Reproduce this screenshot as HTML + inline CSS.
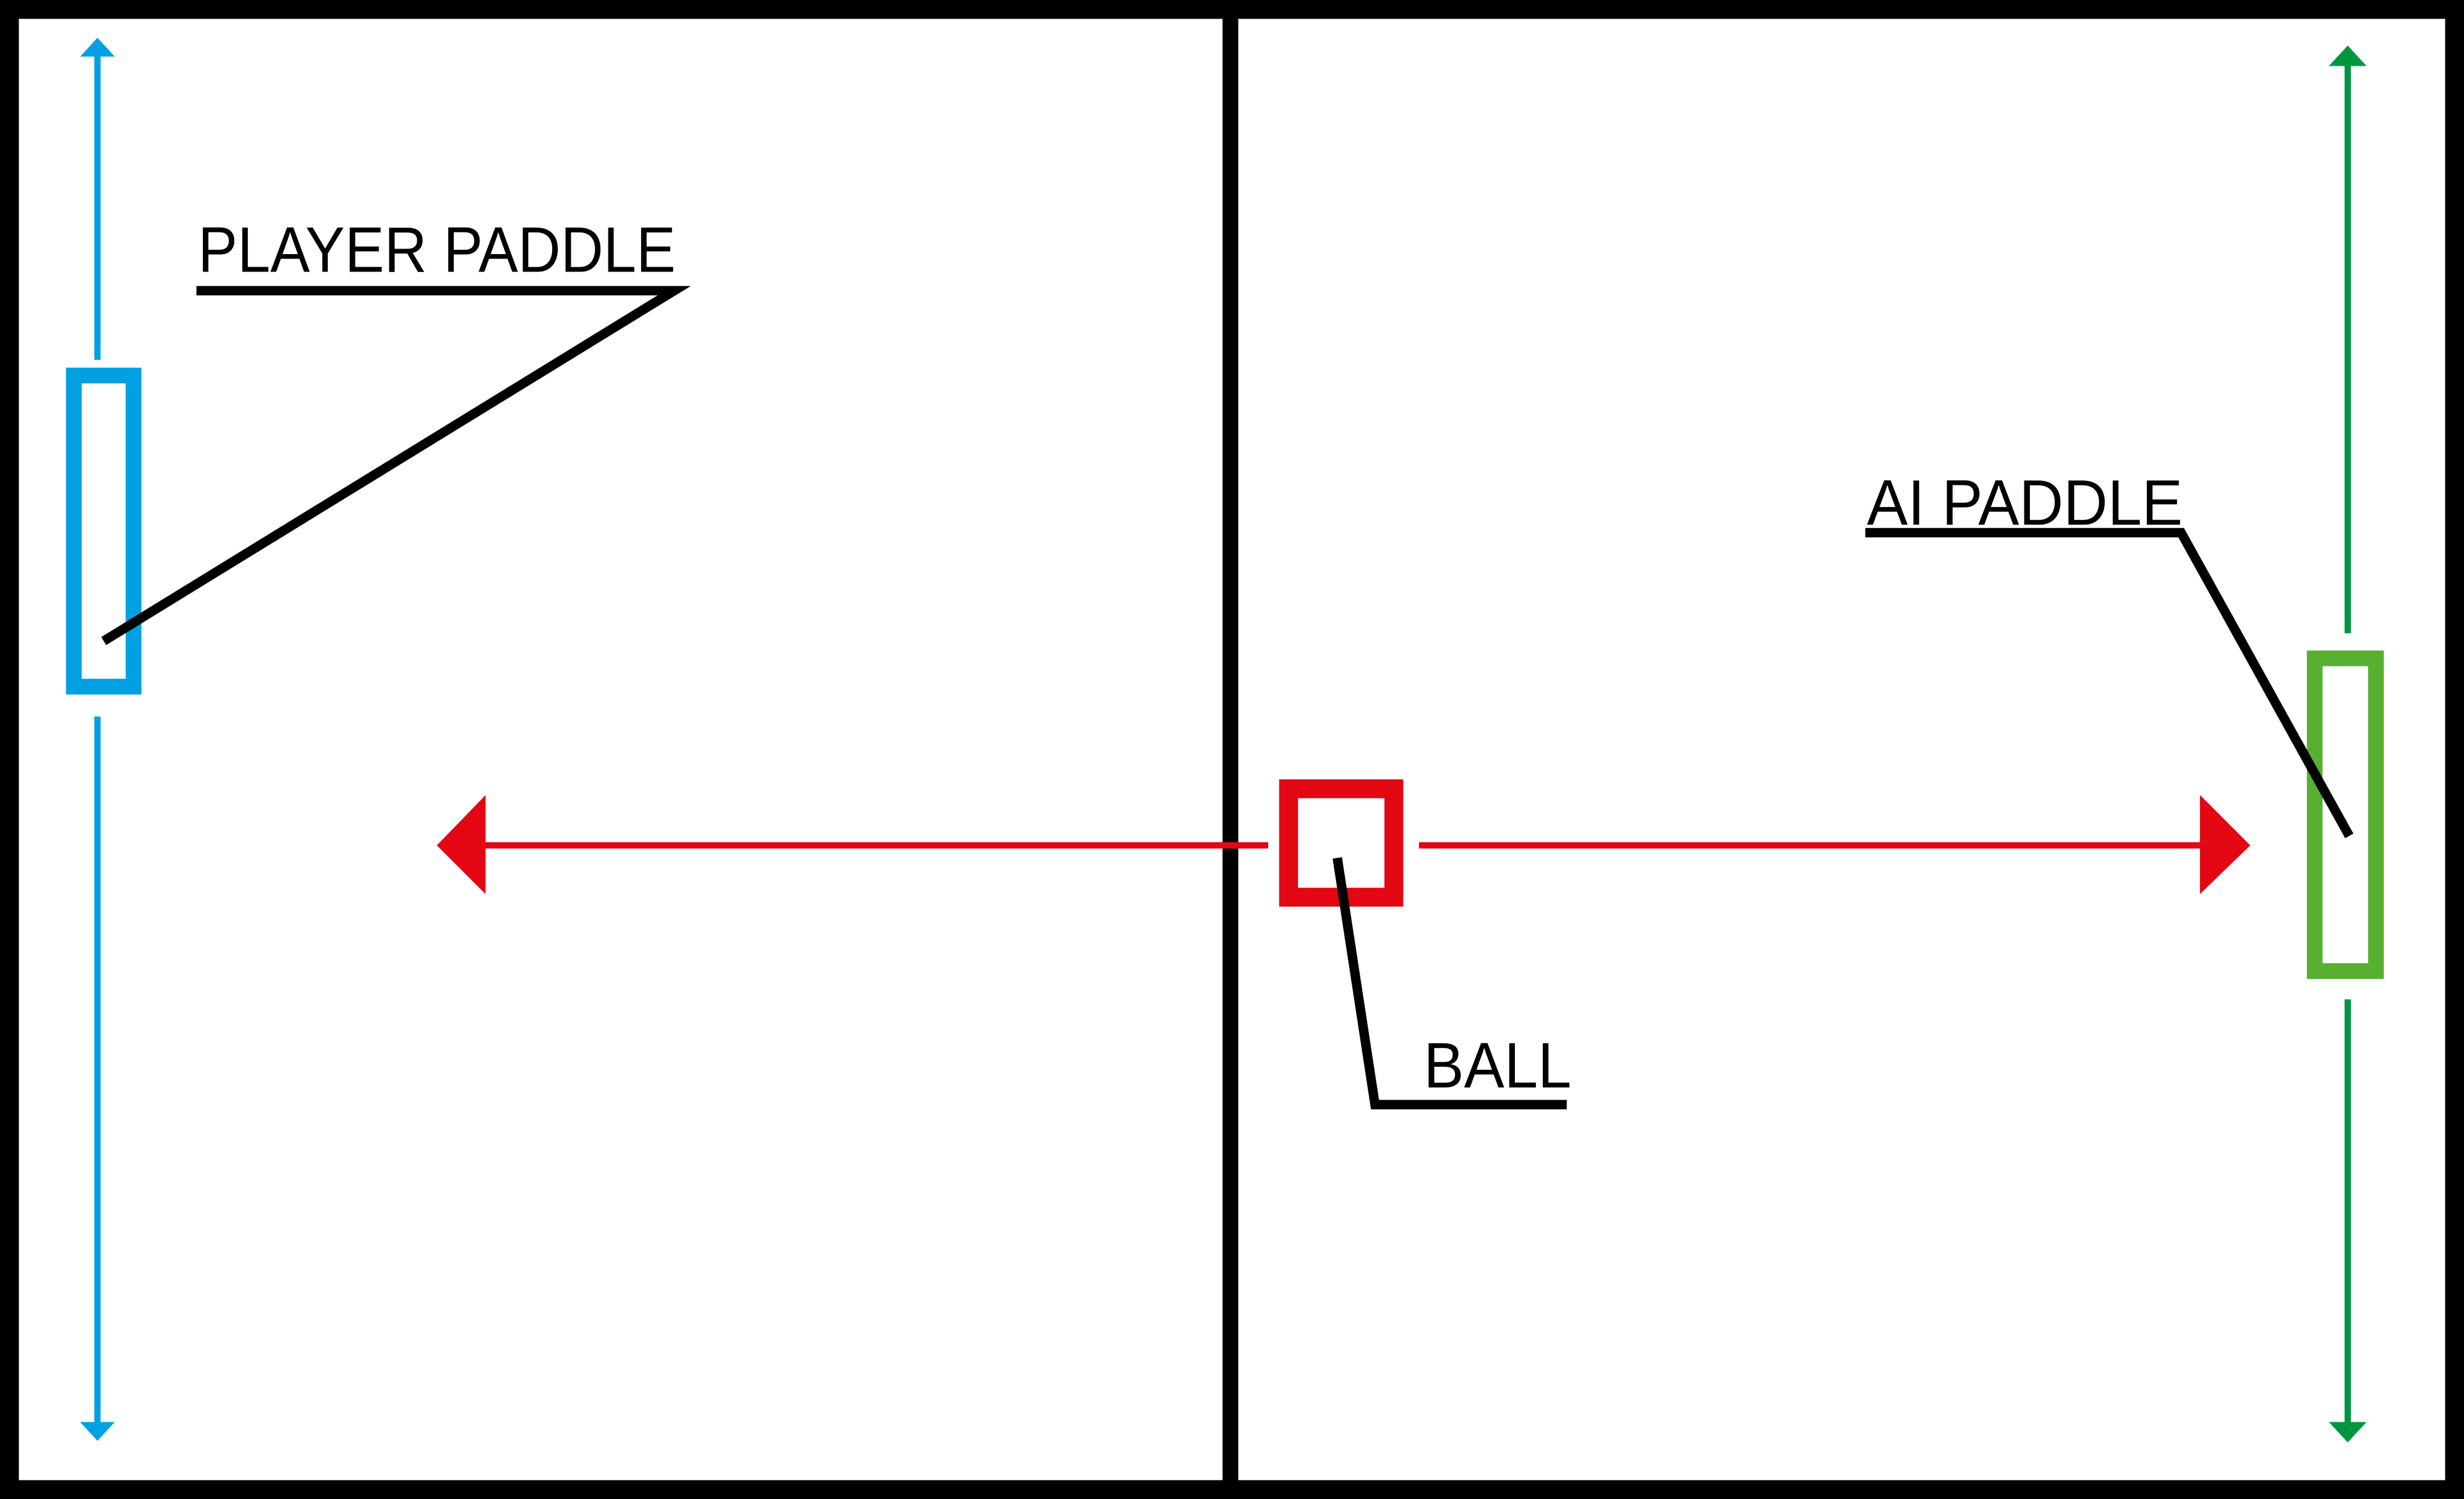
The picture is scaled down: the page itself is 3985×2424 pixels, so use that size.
<!DOCTYPE html>
<html>
<head>
<meta charset="utf-8">
<style>
html,body{margin:0;padding:0;background:#fff;}
svg{display:block;}
text{font-family:"Liberation Sans",sans-serif;font-size:41px;fill:#000;}
</style>
</head>
<body>
<svg width="3985" height="2424" viewBox="0 0 1568 954" preserveAspectRatio="none" xmlns="http://www.w3.org/2000/svg">
  <rect x="6" y="6" width="1556" height="942" fill="#fff" stroke="#000" stroke-width="12"/>
  <line x1="783" y1="6" x2="783" y2="948" stroke="#000" stroke-width="10"/>

  <g stroke="#00a0e3" stroke-width="4" fill="#00a0e3">
    <line x1="62" y1="32" x2="62" y2="229"/>
    <line x1="62" y1="456" x2="62" y2="908"/>
    <polygon points="51,36 62,24 73,36" stroke="none"/>
    <polygon points="51,905 62,917 73,905" stroke="none"/>
  </g>
  <rect x="47" y="239" width="38" height="198" fill="none" stroke="#00a0e3" stroke-width="10"/>

  <g stroke="#009640" stroke-width="4" fill="#009640">
    <line x1="1494" y1="38" x2="1494" y2="403"/>
    <line x1="1494" y1="636" x2="1494" y2="908"/>
    <polygon points="1482,42 1494,29 1506,42" stroke="none"/>
    <polygon points="1482,905 1494,918 1506,905" stroke="none"/>
  </g>
  <rect x="1473" y="419" width="39" height="199" fill="none" stroke="#57b030" stroke-width="10"/>

  <g stroke="#e30613" stroke-width="4" fill="#e30613">
    <line x1="305" y1="538" x2="807" y2="538"/>
    <line x1="903" y1="538" x2="1403" y2="538"/>
    <polygon points="278,538 309,506 309,569" stroke="none"/>
    <polygon points="1432,538 1400,506 1400,569" stroke="none"/>
  </g>
  <rect x="820" y="502" width="67" height="69" fill="none" stroke="#e30613" stroke-width="12"/>

  <g>
    <text x="126" y="173" textLength="304" lengthAdjust="spacingAndGlyphs">PLAYER PADDLE</text>
    <polyline points="125,185 429,185 66,408" fill="none" stroke="#000" stroke-width="6"/>
  </g>
  <g>
    <text x="1188" y="334" textLength="201" lengthAdjust="spacingAndGlyphs">AI PADDLE</text>
    <polyline points="1187,339 1388,339 1495,532" fill="none" stroke="#000" stroke-width="6"/>
  </g>
  <g>
    <text x="906" y="692" textLength="94" lengthAdjust="spacingAndGlyphs">BALL</text>
    <polyline points="851,546 875,703 997,703" fill="none" stroke="#000" stroke-width="6"/>
  </g>
</svg>
</body>
</html>
